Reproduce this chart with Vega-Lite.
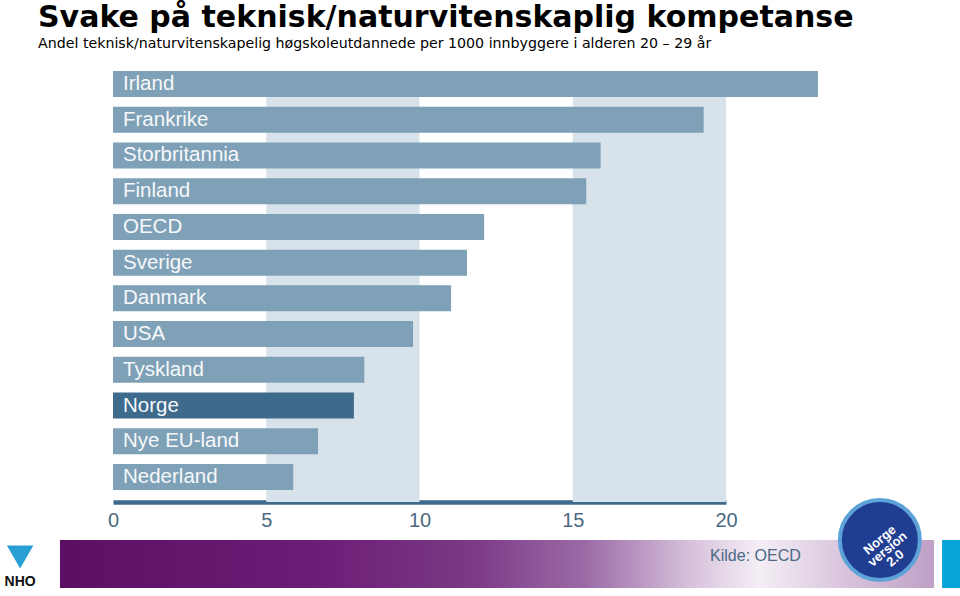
{
  "$schema": "https://vega.github.io/schema/vega-lite/v6.json",
  "autosize": {"type": "none"},
  "width": 613,
  "height": 443,
  "padding": {"left": 113, "top": 59, "right": 234, "bottom": 94},
  "background": "white",
  "config": {"view": {"stroke": null}, "font": "Liberation Sans"},
  "title": {
    "text": "Svake på teknisk/naturvitenskaplig kompetanse",
    "subtitle": "Andel teknisk/naturvitenskapelig høgskoleutdannede per 1000 innbyggere i alderen 20 – 29 år",
    "anchor": "start",
    "frame": "group",
    "dx": -75,
    "offset": 8,
    "font": "DejaVu Sans",
    "fontSize": 30,
    "fontWeight": "bold",
    "color": "#000000",
    "subtitleFont": "DejaVu Sans",
    "subtitleFontSize": 14.2,
    "subtitleColor": "#000000",
    "subtitlePadding": 4
  },
  "datasets": {
    "land": [
      {"land": "Irland", "verdi": 23.0},
      {"land": "Frankrike", "verdi": 19.27},
      {"land": "Storbritannia", "verdi": 15.91},
      {"land": "Finland", "verdi": 15.44},
      {"land": "OECD", "verdi": 12.11},
      {"land": "Sverige", "verdi": 11.55},
      {"land": "Danmark", "verdi": 11.03},
      {"land": "USA", "verdi": 9.79},
      {"land": "Tyskland", "verdi": 8.2},
      {"land": "Norge", "verdi": 7.86},
      {"land": "Nye EU-land", "verdi": 6.69},
      {"land": "Nederland", "verdi": 5.88}
    ],
    "baand": [
      {"fra": 5, "til": 10},
      {"fra": 15, "til": 20}
    ],
    "kilde": [{"tekst": "Kilde: OECD"}],
    "merke": [{"tekst": "Norge\nversion\n2.0"}],
    "logo": [{"tekst": "NHO"}]
  },
  "layer": [
    {
      "data": {"name": "baand"},
      "mark": {"type": "rect", "color": "#d8e2ea"},
      "encoding": {
        "x": {
          "field": "fra", "type": "quantitative",
          "scale": {"domain": [0, 20], "nice": false, "clamp": false},
          "axis": {
            "values": [0, 5, 10, 15, 20],
            "title": null,
            "grid": false,
            "ticks": false,
            "tickSize": 0,
            "domain": true,
            "domainColor": "#3d6a8a",
            "domainWidth": 4.5,
            "labelFont": "Liberation Sans",
            "labelFontSize": 20,
            "labelColor": "#4b6a82",
            "labelPadding": 8,
            "labelFlush": false,
            "labelOverlap": false
          }
        },
        "x2": {"field": "til"},
        "y": {"datum": 0.9142, "type": "quantitative", "scale": {"domain": [0, 1]}, "axis": null},
        "y2": {"datum": 0}
      }
    },
    {
      "data": {"name": "kilde"},
      "mark": {
        "type": "rect",
        "color": {
          "gradient": "linear", "x1": 0, "x2": 1, "y1": 0, "y2": 0,
          "stops": [
            {"offset": 0, "color": "#5c0f62"},
            {"offset": 0.3, "color": "#6c1e77"},
            {"offset": 0.47, "color": "#7b3986"},
            {"offset": 0.6, "color": "#9b6aa6"},
            {"offset": 0.72, "color": "#d6c0db"},
            {"offset": 0.8, "color": "#f4eef5"},
            {"offset": 0.9, "color": "#d8c3dc"},
            {"offset": 1, "color": "#c0a0c6"}
          ]
        }
      },
      "encoding": {
        "x": {"datum": -1.73, "type": "quantitative"},
        "x2": {"datum": 26.79},
        "y": {"datum": -0.0858, "type": "quantitative", "scale": {"domain": [0, 1]}, "axis": null},
        "y2": {"datum": -0.1941}
      }
    },
    {
      "data": {"name": "kilde"},
      "mark": {"type": "rect", "color": "#0aa5d8"},
      "encoding": {
        "x": {"datum": 27.05, "type": "quantitative"},
        "x2": {"datum": 27.7},
        "y": {"datum": -0.0858, "type": "quantitative", "scale": {"domain": [0, 1]}, "axis": null},
        "y2": {"datum": -0.1941}
      }
    },
    {
      "data": {"name": "kilde"},
      "mark": {"type": "text", "align": "left", "baseline": "middle", "fontSize": 16, "color": "#4a6a85", "font": "Liberation Sans"},
      "encoding": {
        "x": {"datum": 19.48, "type": "quantitative"},
        "y": {"datum": -0.1219, "type": "quantitative", "scale": {"domain": [0, 1]}, "axis": null},
        "text": {"field": "tekst"}
      }
    },
    {
      "data": {"name": "merke"},
      "mark": {"type": "point", "shape": "circle", "filled": true, "size": 6400, "color": "#1f3d91", "stroke": "#5ea3d8", "strokeWidth": 4, "opacity": 1},
      "encoding": {
        "x": {"datum": 25.02, "type": "quantitative"},
        "y": {"datum": -0.0858, "type": "quantitative", "scale": {"domain": [0, 1]}, "axis": null}
      }
    },
    {
      "data": {"name": "merke"},
      "mark": {"type": "text", "align": "center", "baseline": "middle", "fontSize": 13, "fontWeight": "bold", "color": "white", "font": "Liberation Sans", "angle": -40, "lineBreak": "\n", "lineHeight": 12},
      "encoding": {
        "x": {"datum": 25.02, "type": "quantitative"},
        "y": {"datum": -0.0858, "type": "quantitative", "scale": {"domain": [0, 1]}, "axis": null},
        "text": {"field": "tekst"}
      }
    },
    {
      "data": {"name": "logo"},
      "mark": {"type": "point", "shape": "triangle-down", "filled": true, "size": 700, "color": "#2a9fd6", "opacity": 1},
      "encoding": {
        "x": {"datum": -3.03, "type": "quantitative"},
        "y": {"datum": -0.124, "type": "quantitative", "scale": {"domain": [0, 1]}, "axis": null}
      }
    },
    {
      "data": {"name": "logo"},
      "mark": {"type": "text", "align": "center", "baseline": "middle", "fontSize": 14, "fontWeight": "bold", "color": "#111111", "font": "Liberation Sans"},
      "encoding": {
        "x": {"datum": -3.03, "type": "quantitative"},
        "y": {"datum": -0.1806, "type": "quantitative", "scale": {"domain": [0, 1]}, "axis": null},
        "text": {"field": "tekst"}
      }
    },
    {
      "data": {"name": "land"},
      "layer": [
        {
          "mark": {"type": "bar"},
          "encoding": {
            "y": {"field": "land", "type": "nominal", "sort": null, "scale": {"paddingInner": 0.272, "paddingOuter": 0.336}, "axis": null},
            "x": {"field": "verdi", "type": "quantitative"},
            "color": {"condition": {"test": "datum.land === 'Norge'", "value": "#3e6b8c"}, "value": "#7fa1b7"}
          }
        },
        {
          "mark": {"type": "text", "align": "left", "baseline": "middle", "dx": 10, "fontSize": 20.5, "color": "#f6f8fa", "font": "Liberation Sans"},
          "encoding": {
            "y": {"field": "land", "type": "nominal", "sort": null, "scale": {"paddingInner": 0.272, "paddingOuter": 0.336}, "axis": null},
            "x": {"datum": 0, "type": "quantitative"},
            "text": {"field": "land"}
          }
        }
      ]
    }
  ],
  "resolve": {"scale": {"y": "independent"}}
}
